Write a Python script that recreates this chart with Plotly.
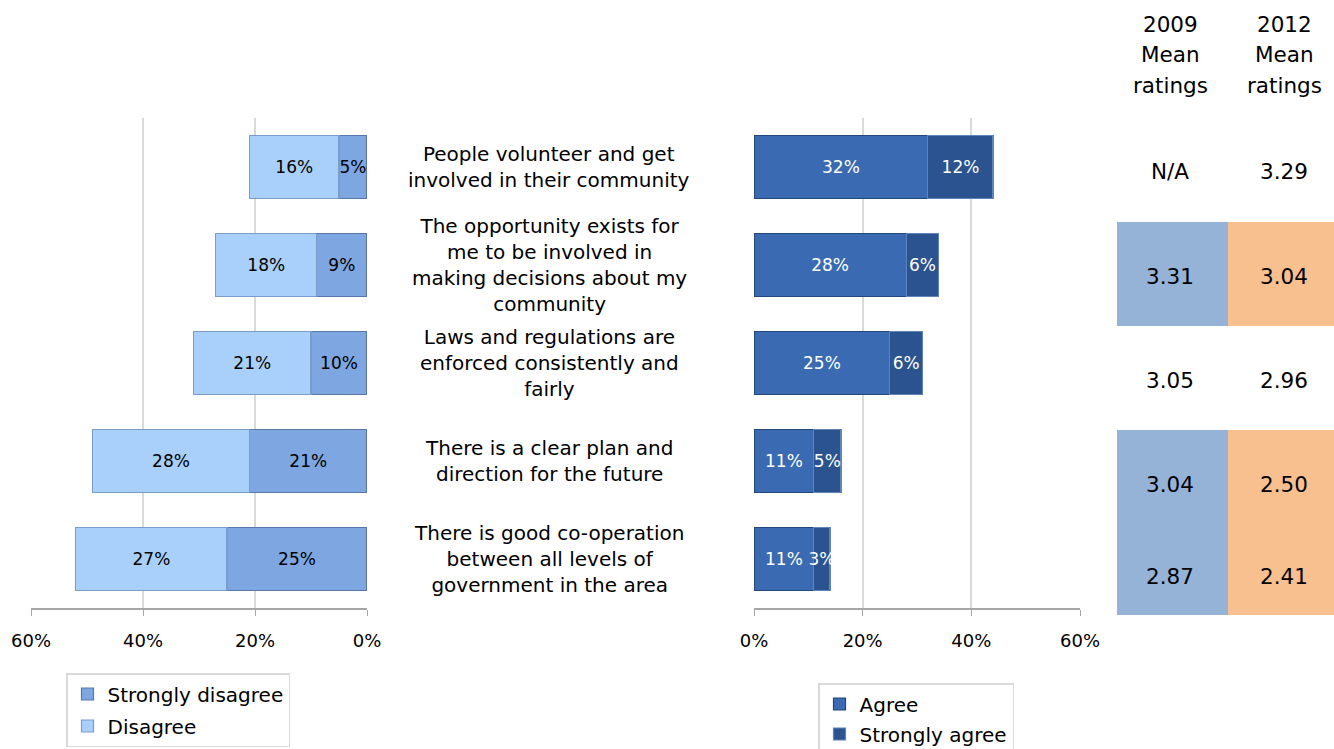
import plotly.graph_objects as go

W, H = 1334, 749

statements = [
    "People volunteer and get<br>involved in their community",
    "The opportunity exists for<br>me to be involved in<br>making decisions about my<br>community",
    "Laws and regulations are<br>enforced consistently and<br>fairly",
    "There is a clear plan and<br>direction for the future",
    "There is good co-operation<br>between all levels of<br>government in the area",
]
cats = ["c1", "c2", "c3", "c4", "c5"]

strongly_disagree = [5, 9, 10, 21, 25]
disagree = [16, 18, 21, 28, 27]
agree = [32, 28, 25, 11, 11]
strongly_agree = [12, 6, 6, 5, 3]

mean_2009 = ["N/A", "3.31", "3.05", "3.04", "2.87"]
mean_2012 = ["3.29", "3.04", "2.96", "2.50", "2.41"]
header_2009 = ["2009", "Mean", "ratings"]
header_2012 = ["2012", "Mean", "ratings"]

x_ticks = [0, 20, 40, 60]
x_ticktext = ["0%", "20%", "40%", "60%"]

FONT = "DejaVu Sans"
C_SD = "#7EA6E0"
C_D = "#A9D0FA"
C_A = "#3A6BB2"
C_SA = "#2A5390"
C_T09 = "#95B3D7"
C_T12 = "#F8BF8F"


def px_x(p):
    return p / W


def px_y(p):
    return 1 - p / H


def pct(vals):
    return [f"{v}%" for v in vals]


def bar(vals, name, color, edge, txtcolor, xa, ya, leg):
    return go.Bar(
        y=cats, x=vals, orientation="h", name=name,
        marker=dict(color=color, line=dict(color=edge, width=1.2)),
        text=pct(vals), textposition="inside", insidetextanchor="middle",
        textangle=0, textfont=dict(color=txtcolor, size=17, family=FONT),
        xaxis=xa, yaxis=ya, legend=leg, legendgroup=name, hoverinfo="skip",
    )


fig = go.Figure()
fig.add_trace(bar(strongly_disagree, "Strongly disagree", C_SD, "#5878A8", "#000000", "x", "y", "legend"))
fig.add_trace(bar(disagree, "Disagree", C_D, "#7A9CC8", "#000000", "x", "y", "legend"))
fig.add_trace(bar(agree, "Agree", C_A, "#24477A", "#FFFFFF", "x2", "y2", "legend2"))
fig.add_trace(bar(strongly_agree, "Strongly agree", C_SA, "#5E84BA", "#FFFFFF", "x2", "y2", "legend2"))

y_domain = [px_y(608), px_y(118)]
axis_common = dict(
    tickvals=x_ticks, ticktext=x_ticktext, showgrid=True, gridcolor="#D9D9D9",
    gridwidth=1.5, showline=True, linecolor="#A6A6A6", linewidth=1.5,
    ticks="outside", ticklen=6, tickcolor="#A6A6A6", zeroline=False,
    tickfont=dict(size=18, family=FONT, color="#000000"), fixedrange=True,
    automargin=False, ticklabelstandoff=10,
)
ycommon = dict(
    type="category", categoryorder="array", categoryarray=cats,
    autorange="reversed", showticklabels=False, showgrid=False,
    zeroline=False, showline=False, domain=y_domain, fixedrange=True,
    automargin=False,
)
legend_common = dict(
    xanchor="left", yanchor="top", bordercolor="#D9D9D9", borderwidth=1.5,
    bgcolor="white", font=dict(size=20, family=FONT), traceorder="grouped",
    itemwidth=30,
)

fig.update_layout(
    width=W, height=H, margin=dict(l=0, r=0, t=0, b=0, autoexpand=False),
    paper_bgcolor="white", plot_bgcolor="white",
    barmode="stack", bargap=0.35,
    font=dict(family=FONT, size=20, color="#000000"),
    uniformtext=dict(minsize=17, mode="show"),
    xaxis=dict(domain=[px_x(31), px_x(367)], range=[60, 0], anchor="y", **axis_common),
    xaxis2=dict(domain=[px_x(754), px_x(1080)], range=[0, 60], anchor="y2", **axis_common),
    yaxis=dict(anchor="x", **ycommon),
    yaxis2=dict(anchor="x2", **ycommon),
    legend=dict(x=px_x(66), y=px_y(673), tracegroupgap=3, **legend_common),
    legend2=dict(x=px_x(818), y=px_y(683), tracegroupgap=1, **legend_common),
)

# Statement labels between the two bar panels
for c, s in zip(cats, statements):
    fig.add_annotation(
        x=px_x(549), xref="paper", y=c, yref="y", text=s, showarrow=False,
        xanchor="center", yanchor="middle", align="center",
        font=dict(size=20, family=FONT, color="#000000"),
    )

# Mean-ratings table on the right
blocks = [
    (1117, 1228, 222, 326, C_T09), (1228, 1334, 222, 326, C_T12),
    (1117, 1228, 430, 615, C_T09), (1228, 1334, 430, 615, C_T12),
]
for x0, x1, y0, y1, col in blocks:
    fig.add_shape(type="rect", xref="paper", yref="paper",
                  x0=px_x(x0), x1=px_x(x1), y0=px_y(y1), y1=px_y(y0),
                  fillcolor=col, line=dict(width=0), layer="below")

for lines, xc in [(header_2009, 1170), (header_2012, 1284)]:
    for line, yy in zip(lines, [25, 55, 85]):
        fig.add_annotation(x=px_x(xc), y=px_y(yy), xref="paper", yref="paper",
                           text=line, showarrow=False, xanchor="center", yanchor="middle",
                           font=dict(size=21.5, family=FONT))

row_y = [172, 276, 380, 484, 576]
for v09, v12, yy in zip(mean_2009, mean_2012, row_y):
    for v, xc in [(v09, 1170), (v12, 1284)]:
        fig.add_annotation(x=px_x(xc), y=px_y(yy), xref="paper", yref="paper",
                           text=v, showarrow=False, xanchor="center", yanchor="middle",
                           font=dict(size=21.5, family=FONT))

fig.write_html("out.html")
